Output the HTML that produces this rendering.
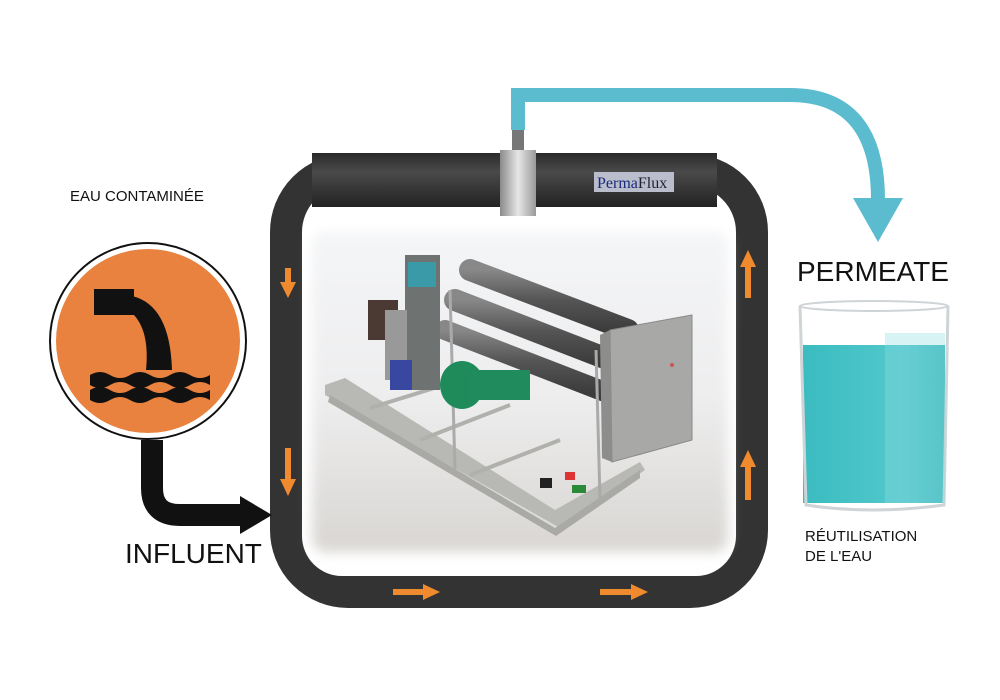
<!DOCTYPE html>
<html><head><meta charset="utf-8"><style>
html,body{margin:0;padding:0;background:#fff}
svg{display:block}
</style></head><body>
<svg width="1000" height="700" viewBox="0 0 1000 700" xmlns="http://www.w3.org/2000/svg" font-family="Liberation Sans, sans-serif">
<defs>
<linearGradient id="pipe" x1="0" y1="0" x2="0" y2="1">
<stop offset="0" stop-color="#2a2a2a"/><stop offset="0.35" stop-color="#4a4a4a"/><stop offset="1" stop-color="#222"/>
</linearGradient>
<linearGradient id="clamp" x1="0" y1="0" x2="1" y2="0">
<stop offset="0" stop-color="#8a8a8a"/><stop offset="0.5" stop-color="#e6e6e6"/><stop offset="1" stop-color="#9a9a9a"/>
</linearGradient>
<linearGradient id="floor" x1="0" y1="0" x2="0" y2="1">
<stop offset="0" stop-color="#f4f5f7"/><stop offset="0.5" stop-color="#eeeeef"/><stop offset="1" stop-color="#d9d6d2"/>
</linearGradient>
<linearGradient id="tube" x1="0" y1="0" x2="0" y2="1">
<stop offset="0" stop-color="#888"/><stop offset="0.5" stop-color="#555"/><stop offset="1" stop-color="#3c3c3c"/>
</linearGradient>
<linearGradient id="water" x1="0" y1="0" x2="1" y2="0">
<stop offset="0" stop-color="#3bbcc0"/><stop offset="0.7" stop-color="#52c8cc"/><stop offset="1" stop-color="#3ab8bd"/>
</linearGradient>
<filter id="blur"><feGaussianBlur stdDeviation="6"/></filter>
</defs>

<!-- loop -->
<rect x="286" y="170" width="466" height="422" rx="62" fill="none" stroke="#333" stroke-width="32"/>
<rect x="302" y="204" width="434" height="372" rx="40" fill="#fff"/>
<rect x="312" y="153" width="405" height="54" fill="url(#pipe)"/>
<!-- photo -->
<rect x="312" y="232" width="416" height="320" rx="14" fill="url(#floor)" filter="url(#blur)"/>
<!-- machine -->
<g>
<polygon points="325,385 345,378 555,510 640,462 645,470 560,528 325,395" fill="#b8b8b4"/>
<polygon points="330,395 555,528 640,470 640,478 556,536 328,402" fill="#a9a9a5"/>
<line x1="370" y1="408" x2="460" y2="380" stroke="#b0b0ac" stroke-width="4"/>
<line x1="420" y1="440" x2="510" y2="405" stroke="#b0b0ac" stroke-width="4"/>
<line x1="470" y1="475" x2="560" y2="440" stroke="#b0b0ac" stroke-width="4"/>
<line x1="470" y1="270" x2="628" y2="330" stroke="url(#tube)" stroke-width="22" stroke-linecap="round"/>
<line x1="455" y1="300" x2="615" y2="362" stroke="url(#tube)" stroke-width="22" stroke-linecap="round"/>
<line x1="445" y1="330" x2="605" y2="392" stroke="url(#tube)" stroke-width="20" stroke-linecap="round"/>
<line x1="450" y1="290" x2="455" y2="470" stroke="#aaa" stroke-width="3"/>
<line x1="596" y1="350" x2="600" y2="500" stroke="#aaa" stroke-width="3"/>
<rect x="405" y="255" width="35" height="135" fill="#6e7270"/>
<rect x="408" y="262" width="28" height="25" fill="#3a9aa8"/>
<rect x="368" y="300" width="30" height="40" fill="#4a3a33"/>
<rect x="385" y="310" width="22" height="70" fill="#999"/>
<rect x="390" y="360" width="22" height="30" fill="#3848a0"/>
<ellipse cx="462" cy="385" rx="22" ry="24" fill="#1f8a5a"/>
<rect x="470" y="370" width="60" height="30" fill="#208b5c"/>
<polygon points="610,330 692,315 692,440 612,462" fill="#a8a9a6" stroke="#8a8a88"/>
<polygon points="600,335 610,330 612,462 602,458" fill="#8d8d8b"/>
<circle cx="672" cy="365" r="2" fill="#c55"/>
<rect x="540" y="478" width="12" height="10" fill="#222"/>
<rect x="565" y="472" width="10" height="8" fill="#d33"/>
<rect x="572" y="485" width="14" height="8" fill="#2a8a3a"/>
</g>

<!-- clamp & label -->
<rect x="500" y="150" width="36" height="66" fill="url(#clamp)"/>
<rect x="512" y="128" width="12" height="22" fill="#777"/>
<rect x="594" y="172" width="80" height="20" fill="#b9bdcc"/>
<text x="597" y="188" font-family="Liberation Serif, serif" font-size="16" fill="#223"><tspan fill="#1a2a7a">Perma</tspan>Flux</text>

<!-- permeate pipe -->
<path d="M518 130 V95 H790 Q878 95 878 200" fill="none" stroke="#5bbccf" stroke-width="14"/>
<polygon points="853,198 903,198 878,242" fill="#5bbccf"/>

<!-- orange arrows -->
<g fill="#f08a2e" stroke="#f08a2e">
<line x1="288" y1="268" x2="288" y2="286" stroke-width="6"/><polygon points="280,282 296,282 288,298" stroke="none"/>
<line x1="288" y1="448" x2="288" y2="483" stroke-width="6"/><polygon points="280,479 296,479 288,496" stroke="none"/>
<line x1="748" y1="264" x2="748" y2="298" stroke-width="6"/><polygon points="740,267 756,267 748,250" stroke="none"/>
<line x1="748" y1="464" x2="748" y2="500" stroke-width="6"/><polygon points="740,467 756,467 748,450" stroke="none"/>
<line x1="393" y1="592" x2="426" y2="592" stroke-width="6"/><polygon points="423,584 423,600 440,592" stroke="none"/>
<line x1="600" y1="592" x2="634" y2="592" stroke-width="6"/><polygon points="631,584 631,600 648,592" stroke="none"/>
</g>

<!-- influent circle -->
<circle cx="148" cy="341" r="98" fill="#fff" stroke="#111" stroke-width="2"/>
<circle cx="148" cy="341" r="92" fill="#e8823e"/>
<rect x="94" y="289" width="40" height="26" fill="#111"/>
<path d="M132 296 Q170 305 172 370 L146 370 Q150 330 132 313 Z" fill="#111"/>
<path d="M90 375 q10 -6 20 0 t20 0 t20 0 t20 0 t20 0 t20 0 v10 q-10 -6 -20 0 t-20 0 t-20 0 t-20 0 t-20 0 t-20 0 z" fill="#111"/>
<path d="M90 390 q10 -6 20 0 t20 0 t20 0 t20 0 t20 0 t20 0 v10 q-10 -6 -20 0 t-20 0 t-20 0 t-20 0 t-20 0 t-20 0 z" fill="#111"/>
<path d="M152 440 V488 Q152 515 180 515 H245" fill="none" stroke="#111" stroke-width="22"/>
<polygon points="240,496 240,534 272,515" fill="#111"/>

<!-- glass -->
<rect x="803" y="345" width="142" height="158" fill="url(#water)"/>
<path d="M800 306 L806 505 Q870 515 944 505 L948 306" fill="none" stroke="#cfd4d6" stroke-width="3"/>
<ellipse cx="874" cy="306" rx="74" ry="5" fill="none" stroke="#cfd4d6" stroke-width="2"/>
<rect x="885" y="333" width="60" height="170" fill="#8fdde0" opacity="0.35"/>

<!-- texts -->
<text x="70" y="201" font-size="15" fill="#111">EAU CONTAMINÉE</text>
<text x="125" y="563" font-size="28" fill="#111">INFLUENT</text>
<text x="797" y="281" font-size="28" fill="#111">PERMEATE</text>
<text x="805" y="541" font-size="15" fill="#111">RÉUTILISATION</text>
<text x="805" y="561" font-size="15" fill="#111">DE L'EAU</text>
</svg>
</body></html>
